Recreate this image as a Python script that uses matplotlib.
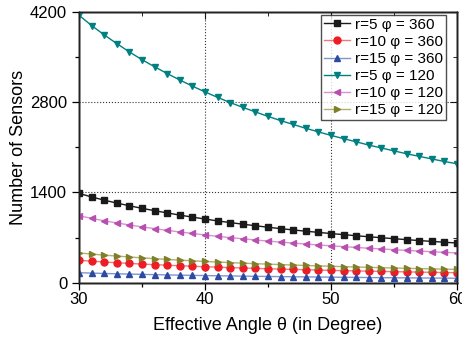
import matplotlib
matplotlib.use("Agg")
import matplotlib.pyplot as plt
from matplotlib.ticker import MultipleLocator

plt.rcParams['font.family'] = ['Liberation Sans', 'DejaVu Sans']

theta = list(range(30, 61))

r5_360 = [1385, 1330, 1280, 1235, 1193, 1153, 1117, 1082, 1048, 1017, 987,
          958, 932, 907, 883, 860, 838, 818, 798, 780, 762,
          745, 728, 712, 697, 682, 667, 653, 640, 627, 615]
r10_360 = [346, 333, 320, 309, 298, 288, 279, 270, 262, 254, 247,
           240, 233, 227, 221, 215, 210, 205, 200, 195, 190,
           186, 182, 178, 174, 170, 167, 163, 160, 157, 154]
r15_360 = [154, 148, 142, 137, 133, 128, 124, 120, 116, 113, 110,
           106, 104, 101, 98, 96, 93, 91, 89, 87, 85,
           83, 81, 79, 77, 76, 74, 73, 71, 70, 68]
r5_120 = [4150, 3990, 3845, 3710, 3580, 3460, 3350, 3245, 3145, 3050, 2960,
          2875, 2795, 2720, 2650, 2580, 2515, 2455, 2395, 2340, 2285,
          2235, 2185, 2135, 2090, 2045, 2000, 1960, 1920, 1880, 1845]
r10_120 = [1038, 998, 960, 926, 895, 865, 838, 811, 786, 763, 740,
           719, 699, 680, 662, 645, 629, 614, 599, 585, 571,
           559, 546, 534, 523, 511, 500, 490, 480, 470, 461]
r15_120 = [461, 443, 427, 412, 398, 384, 372, 360, 349, 339, 329,
           319, 311, 302, 294, 287, 280, 273, 266, 260, 254,
           248, 243, 237, 232, 227, 222, 218, 213, 209, 205]

labels = ["r=5 φ = 360", "r=10 φ = 360", "r=15 φ = 360",
          "r=5 φ = 120", "r=10 φ = 120", "r=15 φ = 120"]

series = [r5_360, r10_360, r15_360, r5_120, r10_120, r15_120]
markers = ['s', 'o', '^', 'v', '<', '>']
mcolors = ['#1a1a1a', '#ee1c24', '#2b4aa0', '#008080', '#b84fb0', '#7f7f2a']
lcolors = ['#1a1a1a', '#f07a7a', '#7f95d0', '#008080', '#d494d0', '#b0b070']

fig = plt.figure(figsize=(4.62, 3.43), dpi=100)
ax = fig.add_axes([0.171, 0.176, 0.818, 0.789])

# mirrored inward ticks on top and right
axt = ax.twiny()
axr = ax.twinx()
ax.set_zorder(axr.get_zorder() + 2)
ax.patch.set_visible(False)

for y, m, mc, lc, lab in zip(series, markers, mcolors, lcolors, labels):
    ax.plot(theta, y, color=lc, linewidth=1.0, marker=m, markersize=5.0,
            markerfacecolor=mc, markeredgecolor=mc, label=lab)

ax.set_xlim(30, 60)
ax.set_ylim(0, 4200)
ax.xaxis.set_major_locator(MultipleLocator(10))
ax.xaxis.set_minor_locator(MultipleLocator(5))
ax.yaxis.set_major_locator(MultipleLocator(1400))
ax.yaxis.set_minor_locator(MultipleLocator(700))

ax.grid(True, which='major', linestyle=':', color='#333333', linewidth=0.8)
ax.tick_params(which='both', direction='out', labelsize=12, width=0.9,
               top=False, right=False)
ax.tick_params(which='major', length=5)
ax.tick_params(which='minor', length=3)
ax.tick_params(axis='x', pad=2)
for a in (ax, axt, axr):
    for sp in a.spines.values():
        sp.set_linewidth(1.0)
        sp.set_color('#222222')

axt.set_xlim(30, 60)
axt.xaxis.set_major_locator(MultipleLocator(10))
axt.xaxis.set_minor_locator(MultipleLocator(5))
axt.tick_params(which='both', direction='in', labeltop=False, top=True)
axt.tick_params(which='major', length=5)
axt.tick_params(which='minor', length=3)
axr.set_ylim(0, 4200)
axr.yaxis.set_major_locator(MultipleLocator(1400))
axr.yaxis.set_minor_locator(MultipleLocator(700))
axr.tick_params(which='both', direction='in', labelright=False, right=True)
axr.tick_params(which='major', length=5)
axr.tick_params(which='minor', length=3)

ax.set_xlabel("Effective Angle θ (in Degree)", fontsize=13, labelpad=7)
ax.set_ylabel("Number of Sensors", fontsize=13, labelpad=2)

leg = ax.legend(loc='upper right', bbox_to_anchor=(0.97, 0.99), fontsize=11,
                frameon=True, fancybox=False, edgecolor='#222222',
                handlelength=1.7, handletextpad=0.3, labelspacing=0.2,
                borderpad=0.2, borderaxespad=0.0)
leg.get_frame().set_linewidth(1.0)

fig.savefig("out.png", dpi=100)
